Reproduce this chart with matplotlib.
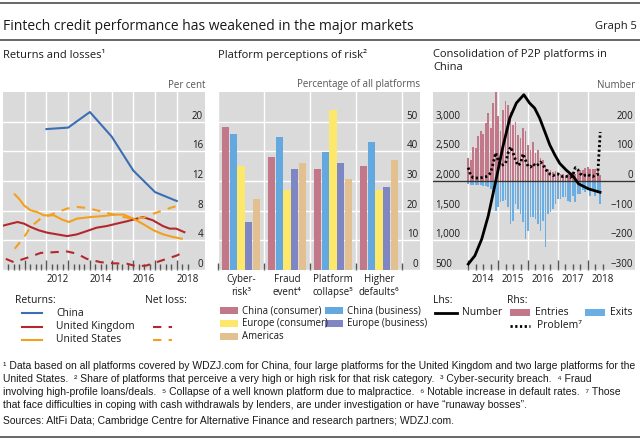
import matplotlib
matplotlib.use('Agg')
import matplotlib.pyplot as plt
from matplotlib import font_manager
from matplotlib.lines import Line2D
from matplotlib.patches import Rectangle

# ---------------- data ----------------
# Panel 1: returns and losses (per cent)
china_x = [2012, 2013, 2014, 2015, 2016, 2017, 2018]
china_y = [19.0, 19.2, 21.3, 18.0, 13.4, 10.5, 9.3]

uk_x = [2010.03, 2010.36, 2010.67, 2010.97, 2011.27, 2011.65, 2012.04, 2012.5, 2012.95, 2013.4, 2013.86,
        2014.3, 2014.78, 2015.23, 2015.69, 2016.0, 2016.45, 2016.9, 2017.36, 2017.67, 2017.97, 2018.35]
uk_y = [6.0, 6.25, 6.47, 6.25, 5.8, 5.35, 5.03, 4.8, 4.57, 4.8, 5.25,
        5.7, 5.93, 6.25, 6.56, 6.8, 7.14, 6.7, 5.93, 5.58, 5.58, 5.1]

us_x = [2010.54, 2010.74, 2010.97, 2011.27, 2011.58, 2011.88, 2012.34, 2012.72, 2013.03, 2013.41,
        2014.03, 2014.64, 2015.1, 2015.55, 2016.0, 2016.47, 2016.93, 2017.38, 2017.84, 2018.23]
us_y = [10.2, 9.6, 8.7, 8.05, 7.8, 7.37, 7.37, 6.8, 6.47, 6.93,
        7.14, 7.28, 7.47, 7.47, 6.93, 6.16, 5.35, 4.8, 4.44, 4.22]

uk_loss_x = [2010.13, 2010.5, 2010.8, 2011.27, 2011.73, 2012.34, 2012.95, 2013.4, 2013.86,
             2014.5, 2015.1, 2015.7, 2016.15, 2016.6, 2017.07, 2017.53, 2018.0, 2018.3]
uk_loss_y = [1.5, 1.05, 1.35, 1.8, 2.3, 2.4, 2.5, 2.2, 1.5,
             1.05, 0.9, 0.85, 0.5, 0.6, 1.05, 1.5, 1.95, 2.4]

us_loss_x = [2010.54, 2010.97, 2011.27, 2011.73, 2012.34, 2012.95, 2013.4, 2013.86, 2014.5,
             2015.1, 2015.55, 2016.0, 2016.47, 2016.93, 2017.38, 2017.84, 2018.23]
us_loss_y = [2.87, 4.44, 5.8, 6.93, 7.6, 8.28, 8.5, 8.36, 7.92,
             7.47, 7.14, 6.93, 7.06, 7.6, 8.05, 8.5, 8.82]

p1_ticks = [0, 4, 8, 12, 16, 20]
p1_year_labels = [2012, 2014, 2016, 2018]

# Panel 2: platform perceptions of risk (% of platforms)
risk_labels = ['Cyber-\nrisk³', 'Fraud\nevent⁴', 'Platform\ncollapse⁵', 'Higher\ndefaults⁶']
china_consumer = [48.1, 38.2, 34.0, 35.1]
china_business = [45.8, 44.9, 39.9, 43.0]
europe_consumer = [35.1, 26.9, 54.0, 26.9]
europe_business = [16.1, 34.0, 35.9, 28.0]
americas = [24.0, 35.9, 30.8, 37.0]
p2_ticks = [0, 10, 20, 30, 40, 50]

# Panel 3: consolidation of P2P platforms in China (monthly, Jan 2014 onwards)
entries = [78, 70, 115, 110, 150, 167, 160, 195, 228, 178, 262, 300,
           218, 167, 240, 268, 257, 234, 189, 200, 155, 144, 180, 167,
           121, 105, 133, 93, 105, 76, 71, 54, 42, 37, 30, 35,
           25, 25, 22, 20, 22, 25, 30, 25, 30, 37, 37, 44,
           48, 42, 39, 42, 37, 20]
exits = [-10, -12, -12, -12, -14, -14, -17, -17, -21, -27, -49, -100,
         -89, -72, -68, -64, -89, -145, -134, -77, -94, -111, -139, -196,
         -168, -123, -123, -128, -145, -168, -134, -224, -111, -106, -94, -77,
         -60, -60, -55, -55, -66, -72, -49, -72, -44, -44, -32, -38,
         -27, -49, -32, -49, -41, -77]
problem = [45, 18, 11, 10, 10, 11, 12, 14, 18, 28, 60, 95,
           70, 52, 55, 60, 95, 115, 95, 70, 52, 60, 92, 70,
           50, 47, 58, 50, 55, 64, 55, 40, 30, 22, 18, 22,
           24, 17, 15, 17, 14, 12, 20, 45, 38, 25, 17, 20,
           22, 17, 15, 20, 22, 165]
num_x = [2014.0, 2014.22, 2014.45, 2014.67, 2014.9, 2015.16, 2015.39, 2015.61, 2015.86, 2016.05,
         2016.22, 2016.39, 2016.56, 2016.73, 2016.9, 2017.06, 2017.28, 2017.5, 2017.69, 2018.02, 2018.41]
num_y = [600, 740, 1020, 1415, 1950, 2580, 3060, 3314, 3454, 3314,
         3229, 3059, 2834, 2607, 2437, 2297, 2183, 2088, 1953, 1868, 1810]
lhs_ticks = [500, 1000, 1500, 2000, 2500, 3000]
rhs_ticks = [-300, -200, -100, 0, 100, 200]
p3_year_labels = [2014, 2015, 2016, 2017, 2018]

# ---------------- style ----------------
plt.rcParams['font.family'] = ['Open Sans', 'DejaVu Sans']
plt.rcParams['axes.unicode_minus'] = True

BG = '#dadada'
TXT = '#1a1a1a'
TICKC = '#555555'
RULE = '#4d4d4d'
C_CHINA = '#3b6eb5'
C_UK = '#b3282d'
C_US = '#f2a01e'
C_CC = '#c27889'
C_CB = '#63a9e0'
C_EC = '#fde86b'
C_EB = '#7f86c4'
C_AM = '#e3c08f'
C_ENT = '#c27889'
C_EXIT = '#6aaee3'

W, H = 640, 440


def fx(x):
    return x / W


def fy(y):
    return 1 - y / H


fig = plt.figure(figsize=(6.4, 4.4), dpi=100)


def make_ax(x0, x1, y0=92, y1=270):
    ax = fig.add_axes([fx(x0), fy(y1), (x1 - x0) / W, (y1 - y0) / H])
    ax.set_facecolor(BG)
    for s in ax.spines.values():
        s.set_visible(False)
    return ax


def year_labels(ax, years):
    for yr in years:
        ax.text(yr + 0.5, -0.025, str(yr), transform=ax.get_xaxis_transform(),
                ha='center', va='top', fontsize=7, color=TXT)


def inside_labels(ax, side):
    # tick labels drawn inside the grey panel, sitting just above their gridline
    if side == 'right':
        ax.yaxis.tick_right()
    else:
        ax.yaxis.tick_left()
    ax.tick_params(axis='y', length=0, pad=-1.5, labelsize=7, labelcolor=TXT)
    plt.setp(ax.get_yticklabels(), ha=side, va='bottom')


# header
fig.add_artist(Line2D([0, 1], [fy(3), fy(3)], color=RULE, lw=1.2))
fig.add_artist(Line2D([0, 1], [fy(40), fy(40)], color=RULE, lw=1.2))
fig.text(fx(3), fy(26), 'Fintech credit performance has weakened in the major markets',
         fontsize=10, va='center', color=TXT)
fig.text(fx(637), fy(26), 'Graph 5', fontsize=8, va='center', ha='right', color=TXT)

# ---------------- panel 1 ----------------
ax1 = make_ax(3, 205)
ax1.set_xlim(2010.0, 2019.3)
ax1.set_ylim(0, 24)
ax1.plot(china_x, china_y, color=C_CHINA, lw=1.5)
ax1.plot(uk_x, uk_y, color=C_UK, lw=1.5)
ax1.plot(us_x, us_y, color=C_US, lw=1.5)
ax1.plot(uk_loss_x, uk_loss_y, color=C_UK, lw=1.5, dashes=(4, 3.5))
ax1.plot(us_loss_x, us_loss_y, color=C_US, lw=1.5, dashes=(4, 3.5))
ax1.set_yticks(p1_ticks)
inside_labels(ax1, 'right')
ax1.set_xticks(range(2011, 2019))
ax1.set_xticks([2010 + q / 4 for q in range(1, 35)], minor=True)
ax1.tick_params(axis='x', which='both', direction='in', color=TICKC, labelbottom=False, width=1)
ax1.tick_params(axis='x', which='major', length=7)
ax1.tick_params(axis='x', which='minor', length=4)
ax1.grid(axis='both', which='major', color='white', lw=1)
ax1.set_axisbelow(True)
year_labels(ax1, p1_year_labels)
fig.text(fx(3), fy(55), 'Returns and losses¹', fontsize=8, va='center', color=TXT)
fig.text(fx(205), fy(85), 'Per cent', fontsize=7, va='center', ha='right', color='#555555')

# legend panel 1
fig.text(fx(15), fy(300.7), 'Returns:', fontsize=7.5, va='center', color=TXT)
fig.text(fx(145), fy(300.7), 'Net loss:', fontsize=7.5, va='center', color=TXT)
for y, c, name, loss in [(313.3, C_CHINA, 'China', False), (326.7, C_UK, 'United Kingdom', True),
                         (340, C_US, 'United States', True)]:
    fig.add_artist(Line2D([fx(22), fx(42)], [fy(y), fy(y)], color=c, lw=1.5))
    fig.text(fx(56), fy(y), name, fontsize=7.5, va='center', color=TXT)
    if loss:
        fig.add_artist(Line2D([fx(153), fx(172)], [fy(y), fy(y)], color=c, lw=1.5, dashes=(4, 3.5)))

# ---------------- panel 2 ----------------
ax2 = make_ax(218, 420)
ax2.set_xlim(-0.5, 3.89)
ax2.set_ylim(0, 60)
series2 = [(china_consumer, C_CC, 'China (consumer)'), (china_business, C_CB, 'China (business)'),
           (europe_consumer, C_EC, 'Europe (consumer)'), (europe_business, C_EB, 'Europe (business)'),
           (americas, C_AM, 'Americas')]
step = 0.167
for k, (vals, col, name) in enumerate(series2):
    ax2.bar([i + (k - 2) * step for i in range(len(vals))], vals, width=0.155, color=col, zorder=2)
ax2.set_yticks(p2_ticks)
inside_labels(ax2, 'right')
ax2.set_xticks(range(4), risk_labels)
ax2.set_xticks([-0.5, 0.5, 1.5, 2.5, 3.5], minor=True)
ax2.tick_params(axis='x', which='major', length=0, pad=3, labelsize=7, labelcolor=TXT)
ax2.tick_params(axis='x', which='minor', direction='in', length=5, color=TICKC, width=1)
ax2.grid(axis='y', color='white', lw=1)
ax2.grid(axis='x', which='minor', color='white', lw=1)
ax2.set_axisbelow(True)
fig.text(fx(218), fy(55), 'Platform perceptions of risk²', fontsize=8, va='center', color=TXT)
fig.text(fx(420), fy(85), 'Percentage of all platforms', fontsize=7, va='center', ha='right',
         color='#555555')

# legend panel 2
leg2_pos = [(220, 310.7), (325, 310.7), (220, 323.3), (325, 323.3), (220, 336)]
for (px, py), (vals, col, name) in zip(leg2_pos, series2):
    fig.add_artist(Rectangle((fx(px), fy(py + 3.5)), 18 / W, 7 / H, color=col, lw=0))
    fig.text(fx(px + 21.7), fy(py), name, fontsize=6.9, va='center', color=TXT)

# ---------------- panel 3 ----------------
ax3 = make_ax(433, 635)
ax3l = ax3.twinx()
for s in ax3l.spines.values():
    s.set_visible(False)

months = [2014 + i / 12 for i in range(len(entries))]
ax3.set_xlim(2012.82, 2019.58)
ax3.set_ylim(-300, 300)
ax3.bar(months, entries, width=0.058, color=C_ENT, zorder=2)
ax3.bar(months, exits, width=0.058, color=C_EXIT, zorder=2)
ax3.axhline(0, color='#333333', lw=1, zorder=3)
ax3.plot(months, problem, color='black', lw=2, ls=(0, (0.8, 0.9)), zorder=4)
ax3.set_yticks(rhs_ticks)
inside_labels(ax3, 'right')
ax3.set_xticks(range(2014, 2019))
ax3.set_xticks([2014 + q / 4 for q in range(0, 19)], minor=True)
ax3.tick_params(axis='x', which='both', direction='in', color=TICKC, labelbottom=False, width=1)
ax3.tick_params(axis='x', which='major', length=7)
ax3.tick_params(axis='x', which='minor', length=4)
ax3.grid(axis='both', which='major', color='white', lw=1)
ax3.set_axisbelow(True)
year_labels(ax3, p3_year_labels)

ax3l.set_ylim(500, 3500)
ax3l.plot(num_x, num_y, color='black', lw=2)
ax3l.set_yticks(lhs_ticks, [f'{v:,}' for v in lhs_ticks])
inside_labels(ax3l, 'left')

fig.text(fx(433), fy(55), 'Consolidation of P2P platforms in', fontsize=8, va='center', color=TXT)
fig.text(fx(433), fy(68), 'China', fontsize=8, va='center', color=TXT)
fig.text(fx(635), fy(85), 'Number', fontsize=7, va='center', ha='right', color='#555555')

# legend panel 3
fig.text(fx(433), fy(300.7), 'Lhs:', fontsize=7.5, va='center', color=TXT)
fig.text(fx(506.7), fy(300.7), 'Rhs:', fontsize=7.5, va='center', color=TXT)
fig.add_artist(Line2D([fx(435), fx(457)], [fy(312.7), fy(312.7)], color='black', lw=2))
fig.text(fx(461.7), fy(312.7), 'Number', fontsize=7.5, va='center', color=TXT)
fig.add_artist(Rectangle((fx(510), fy(316.2)), 20 / W, 7 / H, color=C_ENT, lw=0))
fig.text(fx(535), fy(312.7), 'Entries', fontsize=7.5, va='center', color=TXT)
fig.add_artist(Rectangle((fx(585), fy(316.2)), 20 / W, 7 / H, color=C_EXIT, lw=0))
fig.text(fx(610), fy(312.7), 'Exits', fontsize=7.5, va='center', color=TXT)
fig.add_artist(Line2D([fx(510), fx(530)], [fy(325.7), fy(325.7)], color='black', lw=2,
                      ls=(0, (0.8, 0.9))))
fig.text(fx(536.7), fy(325.7), 'Problem⁷', fontsize=7.5, va='center', color=TXT)

# ---------------- footnotes ----------------
names = {f.name for f in font_manager.fontManager.ttflist}
note_font = 'Liberation Sans Narrow' if 'Liberation Sans Narrow' in names else 'Liberation Sans'
note_fam = [note_font, 'DejaVu Sans']
notes = [
    '¹ Data based on all platforms covered by WDZJ.com for China, four large platforms for the United Kingdom and two large platforms for the',
    'United States.  ² Share of platforms that perceive a very high or high risk for that risk category.  ³ Cyber-security breach.  ⁴ Fraud',
    'involving high-profile loans/deals.  ⁵ Collapse of a well known platform due to malpractice.  ⁶ Notable increase in default rates.  ⁷ Those',
    'that face difficulties in coping with cash withdrawals by lenders, are under investigation or have \u201crunaway bosses\u201d.',
]
sources = 'Sources: AltFi Data; Cambridge Centre for Alternative Finance and research partners; WDZJ.com.'

probe = fig.text(0, 0, notes[0], fontsize=7, family=note_fam)
rend = fig.canvas.get_renderer()
note_size = 7 * 634 / probe.get_window_extent(rend).width
probe.remove()
for y, line in zip([366, 379, 392, 405], notes):
    fig.text(fx(3), fy(y), line, fontsize=note_size, family=note_fam, va='center', color=TXT)
fig.text(fx(3), fy(421), sources, fontsize=note_size, family=note_fam, va='center', color=TXT)
fig.add_artist(Line2D([0, 1], [fy(437), fy(437)], color=RULE, lw=1.2))

fig.savefig('out.png', dpi=100)
